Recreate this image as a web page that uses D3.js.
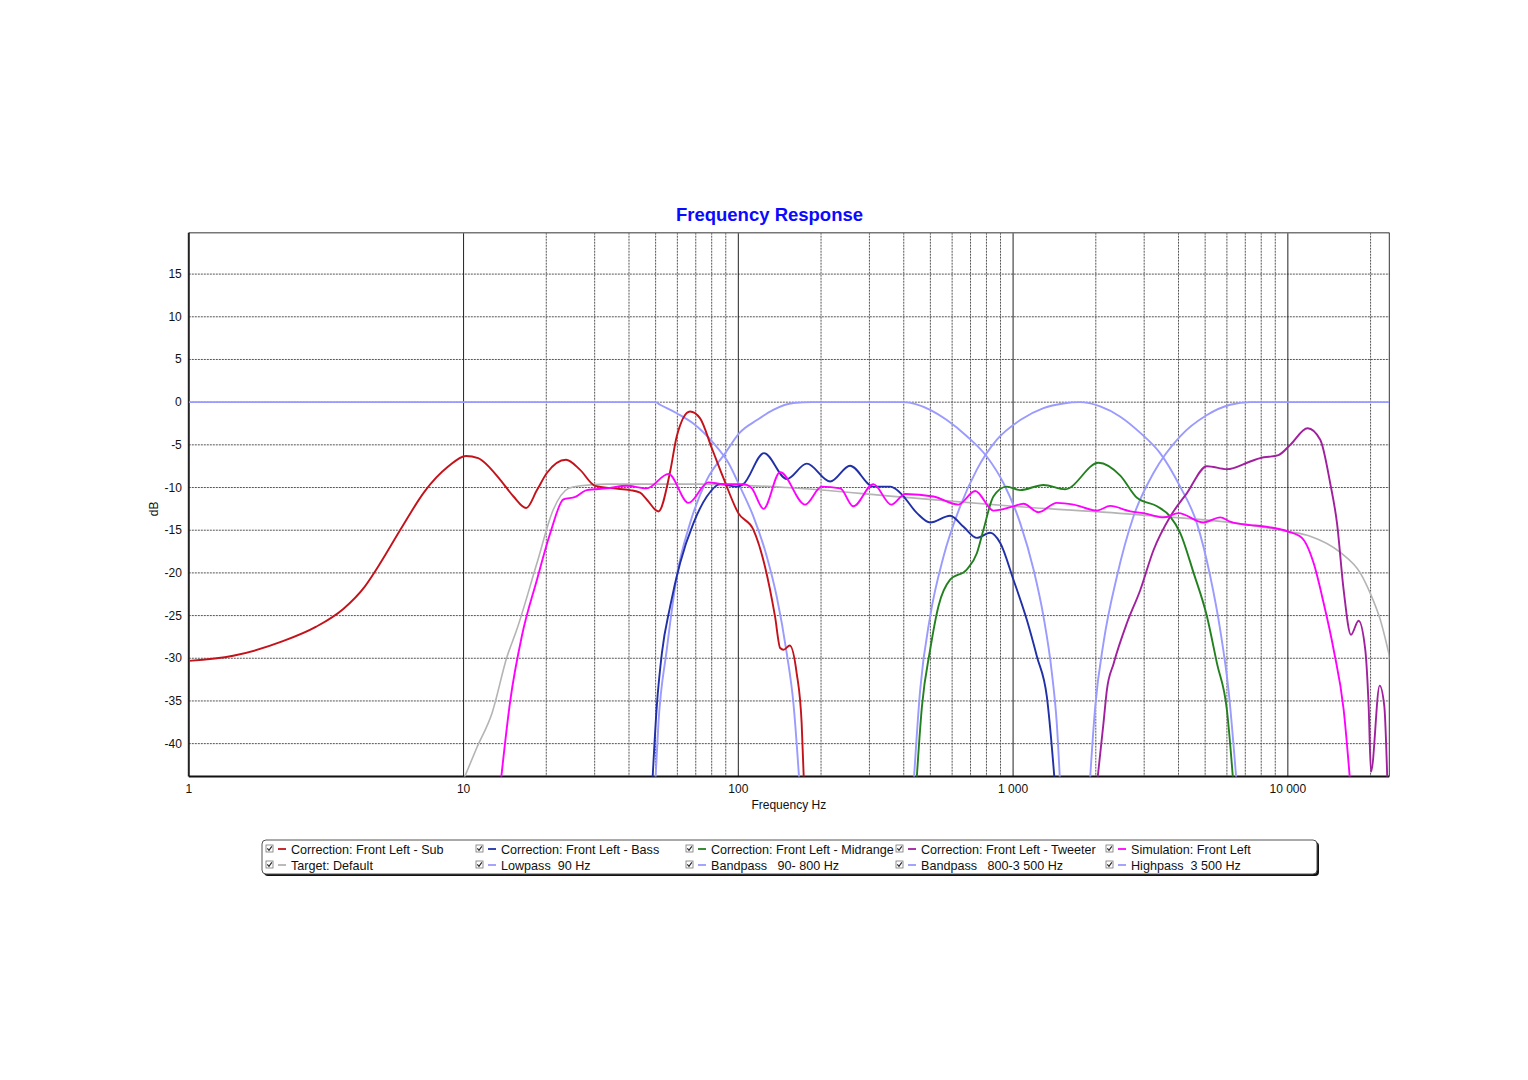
<!DOCTYPE html>
<html>
<head>
<meta charset="utf-8">
<script src="https://cdn.jsdelivr.net/npm/d3@7/dist/d3.min.js"></script>
<style>
  body { margin: 0; background: #fff; }
  text { font-family: "Liberation Sans", Arial, sans-serif; fill: #111; }
</style>
</head>
<body>
<div id="chart"></div>
<script>
// [frequency Hz, level dB]
const sub = [[1, -30.3], [1.45, -29.7], [2.2, -28.0], [2.91, -26.3], [3.64, -24.25], [4.37, -21.6],
  [4.89, -19.25], [5.94, -14.75], [7.22, -10.45], [8.79, -7.55], [10.2, -6.3], [11.3, -6.55],
  [11.8, -6.95], [13.6, -9.1], [15.2, -11.05], [16.9, -12.4], [18.5, -10.3], [20.1, -8.3],
  [23.6, -6.75], [26.5, -7.9], [30.1, -9.8], [35.1, -10.1], [40.4, -10.3], [43.9, -10.6],
  [46.4, -11.4], [51.2, -12.8], [56.5, -8.1], [59.7, -4.0], [66.7, -1.1], [72.6, -1.9],
  [80.1, -5.4], [88.3, -8.9], [100, -13.0], [113.5, -14.95], [125, -19.25], [136, -25.1],
  [142, -28.8], [146, -29.0], [154, -28.5], [163, -31.7], [170, -37.6], [174, -46]]

const bass = [[48.4, -46], [50.5, -35.6], [52.7, -29.4], [56.5, -23.9], [61.4, -18.85], [68.6, -14.2],
  [76.8, -11.05], [85.9, -9.6], [98.6, -9.9], [104.3, -9.6], [124, -5.97], [150, -9.0],
  [177.5, -7.2], [216, -9.3], [255, -7.45], [310, -9.9], [357, -9.9], [388, -10.6], [447, -13.0],
  [499, -14.1], [590, -13.3], [660, -14.6], [738, -15.9], [825, -15.3], [898, -16.5],
  [1003, -20.8], [1122, -25.5], [1221, -29.8], [1327, -34.5], [1430, -46]]

const midrange = [[442, -46], [466, -35.6], [499, -29.0], [535, -23.9], [590, -20.8], [679, -19.6],
  [738, -17.7], [780, -14.95], [848, -11.05], [948, -9.9], [1062, -10.3], [1290, -9.7],
  [1547, -10.2], [2046, -7.1], [2455, -8.6], [2825, -11.2], [3342, -12.2], [3733, -13.4],
  [4055, -15.3], [4539, -20.0], [5077, -25.1], [5521, -30.6], [5998, -36.0], [6380, -46]]

const tweeter = [[2000, -46], [2133, -37.6], [2195, -33.7], [2323, -30.6], [2594, -25.9], [2904, -22.0],
  [3243, -17.35], [3733, -13.4], [4293, -10.65], [5077, -7.5], [5998, -7.85], [7295, -6.95],
  [7934, -6.55], [9247, -6.2], [10200, -5.0], [11800, -3.05], [13120, -4.4], [14260, -9.5],
  [15100, -14.2], [15960, -22.0], [16970, -27.25], [18090, -25.6], [19130, -29.0], [19680, -35.6],
  [20070, -43.3], [21580, -33.2], [22440, -35.6], [23100, -46]]

const simulation = [[13.5, -46], [14.8, -34.9], [16.3, -27.4], [18.5, -20.8], [20.7, -15.3], [23.1, -11.4],
  [25.5, -11.1], [28.1, -10.3], [33.2, -10.1], [39.3, -9.8], [46.4, -10.1], [55.7, -8.4],
  [65.8, -11.8], [77.8, -9.4], [88.3, -9.6], [104.4, -9.6], [112, -10.1], [123.5, -12.5],
  [142, -8.2], [175, -12.0], [201, -9.9], [235, -10.1], [262, -12.2], [310, -9.6], [360, -12.0],
  [405, -10.75], [513, -11.05], [632, -12.0], [728, -10.4], [848, -12.7], [1003, -12.2],
  [1091, -11.9], [1237, -12.9], [1442, -11.8], [1660, -12.0], [2018, -12.7], [2257, -12.15],
  [2673, -12.8], [2985, -13.0], [3528, -13.5], [4000, -13.0], [4932, -14.1], [5675, -13.5],
  [6166, -14.0], [7295, -14.4], [7934, -14.5], [10000, -15.15], [11250, -15.9], [12410, -18.85],
  [13490, -23.5], [14680, -29.0], [15960, -36.0], [17000, -46]]

const target = [[10, -44.2], [11.2, -40.4], [12.7, -36.4], [14.4, -29.8], [15.6, -26.7], [18.5, -18.85],
  [21.2, -12.6], [24.1, -10.1], [26.6, -9.8], [33.2, -9.6], [72, -9.6], [150, -10.0], [388, -11.1],
  [1000, -12.2], [2904, -13.2], [7295, -14.4], [10000, -15.15], [12060, -15.7], [15520, -17.6],
  [18340, -20.0], [19950, -22.4], [21700, -25.5], [23600, -30.2]]

const lowpass90 = [[1, 0], [50, 0], [51.9, -0.3], [59.7, -1.3], [68.6, -2.5], [81.2, -4.8], [92, -7.1],
  [101.4, -9.9], [113.5, -13.4], [127, -18.1], [138, -22.8], [150, -29.4], [158.6, -35.2], [168, -46]]

const bandpass90to800 = [[49.6, -46], [51.2, -37.6], [54.9, -29.0], [59.7, -20.4], [66.7, -14.2],
  [76.8, -9.1], [89.5, -6.0], [101, -3.6], [116.8, -2.1], [134, -0.9], [158.6, -0.1], [185, 0],
  [400, 0], [499, -0.9], [574, -2.1], [679, -4.0], [803, -6.4], [923, -9.5], [1062, -14.2],
  [1187, -19.6], [1290, -25.1], [1384, -31.7], [1442, -37.6], [1490, -46]]

const bandpass800to3500 = [[432, -46], [459, -33.7], [499, -25.1], [558, -18.1], [642, -12.2],
  [738, -7.9], [873, -4.4], [1062, -2.1], [1290, -0.7], [1524, -0.15], [1750, 0], [2075, -0.5],
  [2455, -1.7], [2904, -3.6], [3433, -6.0], [4055, -9.9], [4667, -14.2], [5218, -20.4],
  [5675, -26.7], [6081, -33.7], [6560, -46]]

const highpass3500 = [[1890, -46], [1991, -35.6], [2133, -28.2], [2388, -20.4], [2742, -13.4],
  [3243, -8.3], [4055, -4.0], [5077, -1.5], [6166, -0.3], [7295, 0], [23400, 0]]

const xTicks = [1, 10, 100, 1000, 10000]
const xTickLabels = ['1', '10', '100', '1 000', '10 000']
const yTicks = [-40, -35, -30, -25, -20, -15, -10, -5, 0, 5, 10, 15]

const legendLabels = [
  'Correction: Front Left - Sub', 'Correction: Front Left - Bass', 'Correction: Front Left - Midrange',
  'Correction: Front Left - Tweeter', 'Simulation: Front Left', 'Target: Default', 'Lowpass  90 Hz',
  'Bandpass   90- 800 Hz', 'Bandpass   800-3 500 Hz', 'Highpass  3 500 Hz']

const COLORS = ['#c4121a', '#2030a6', '#23801f', '#a0209e', '#ff00ff', '#b4b4b4',
  '#9a9aff', '#9a9aff', '#9a9aff', '#9a9aff']
const seriesData = [sub, bass, midrange, tweeter, simulation, target,
  lowpass90, bandpass90to800, bandpass800to3500, highpass3500]

const MARGIN = {TOP: 232.7, LEFT: 188.8}
const WIDTH = 1389.3 - MARGIN.LEFT
const HEIGHT = 776.5 - MARGIN.TOP

const svg = d3.select('#chart')
  .append('svg')
  .attr('width', 1528)
  .attr('height', 1080)

const g = svg.append('g')
  .attr('transform', `translate(${MARGIN.LEFT}, ${MARGIN.TOP})`)

const x = d3.scaleLog()
  .domain([1, 23400])
  .range([0, WIDTH])

const y = d3.scaleLinear()
  .domain([-43.85, 19.85])
  .range([HEIGHT, 0])

g.append('clipPath').attr('id', 'plot-clip')
  .append('rect')
  .attr('width', WIDTH)
  .attr('height', HEIGHT)

// minor grid, only from 20 Hz up like the original
const minor = []
;[10, 100, 1000, 10000].forEach(d => {
  d3.range(2, 10).forEach(k => { if (d * k < 23400) minor.push(d * k) })
})

g.selectAll('.vminor').data(minor).enter()
  .append('line')
  .attr('x1', d => x(d)).attr('x2', d => x(d))
  .attr('y1', 0).attr('y2', HEIGHT)
  .attr('stroke', '#555')
  .attr('stroke-width', 1)
  .attr('stroke-dasharray', '2,1')

g.selectAll('.hgrid').data(yTicks).enter()
  .append('line')
  .attr('x1', 0).attr('x2', WIDTH)
  .attr('y1', d => y(d)).attr('y2', d => y(d))
  .attr('stroke', '#555')
  .attr('stroke-width', 1)
  .attr('stroke-dasharray', '2,1')

// solid decade lines
g.selectAll('.vmajor').data(xTicks.slice(1)).enter()
  .append('line')
  .attr('x1', d => x(d)).attr('x2', d => x(d))
  .attr('y1', 0).attr('y2', HEIGHT)
  .attr('stroke', '#222')
  .attr('stroke-width', 1)

// frame
g.append('line').attr('x1', 0).attr('x2', WIDTH).attr('y1', 0).attr('y2', 0)
  .attr('stroke', '#777').attr('stroke-width', 1.5)
g.append('line').attr('x1', WIDTH).attr('x2', WIDTH).attr('y1', 0).attr('y2', HEIGHT)
  .attr('stroke', '#333').attr('stroke-width', 1)
g.append('line').attr('x1', 0).attr('x2', 0).attr('y1', 0).attr('y2', HEIGHT)
  .attr('stroke', '#222').attr('stroke-width', 2)
g.append('line').attr('x1', 0).attr('x2', WIDTH).attr('y1', HEIGHT).attr('y2', HEIGHT)
  .attr('stroke', '#111').attr('stroke-width', 2)

// tick labels
g.selectAll('.ylab').data(yTicks).enter()
  .append('text')
  .attr('x', -7)
  .attr('y', d => y(d) + 4)
  .attr('text-anchor', 'end')
  .attr('font-size', 12)
  .text(d => d)

g.selectAll('.xlab').data(xTicks).enter()
  .append('text')
  .attr('x', d => x(d))
  .attr('y', HEIGHT + 17)
  .attr('text-anchor', 'middle')
  .attr('font-size', 12)
  .text((d, i) => xTickLabels[i])

g.append('text')
  .attr('x', -(y(-12.5)))
  .attr('y', -31)
  .attr('text-anchor', 'middle')
  .attr('transform', 'rotate(-90)')
  .attr('font-size', 12)
  .text('dB')

g.append('text')
  .attr('x', 600)
  .attr('y', HEIGHT + 33)
  .attr('text-anchor', 'middle')
  .attr('font-size', 12)
  .text('Frequency Hz')

svg.append('text')
  .attr('x', 769.5)
  .attr('y', 221)
  .attr('text-anchor', 'middle')
  .attr('font-size', 18.5)
  .attr('font-weight', 'bold')
  .style('fill', '#0a0aff')
  .text('Frequency Response')

// curves
const line = d3.line()
  .x(d => x(d[0]))
  .y(d => y(d[1]))
  .curve(d3.curveMonotoneX)

const drawOrder = [5, 6, 7, 8, 9, 0, 1, 2, 3, 4]
const curves = g.append('g').attr('clip-path', 'url(#plot-clip)')
drawOrder.forEach(i => {
  curves.append('path')
    .datum(seriesData[i])
    .attr('d', line)
    .attr('fill', 'none')
    .attr('stroke', COLORS[i])
    .attr('stroke-width', i === 5 ? 1.6 : 1.9)
})

// legend box with drop shadow
const LEG = {X: 262, Y: 840, W: 1055, H: 34}
svg.append('rect')
  .attr('x', LEG.X + 2).attr('y', LEG.Y + 2)
  .attr('width', LEG.W).attr('height', LEG.H)
  .attr('rx', 4)
  .attr('fill', '#111')
svg.append('rect')
  .attr('x', LEG.X).attr('y', LEG.Y)
  .attr('width', LEG.W).attr('height', LEG.H)
  .attr('rx', 4)
  .attr('fill', '#fff')
  .attr('stroke', '#555')
  .attr('stroke-width', 1)

const items = svg.selectAll('.legend').data(legendLabels).enter()
  .append('g')
  .attr('transform', (d, i) => `translate(${LEG.X + 4 + (i % 5) * 210}, ${849 + Math.floor(i / 5) * 16})`)

items.append('rect')
  .attr('x', 0).attr('y', -4)
  .attr('width', 7).attr('height', 7)
  .attr('fill', '#fff')
  .attr('stroke', '#777')
  .attr('stroke-width', 0.8)

items.append('path')
  .attr('d', 'M1.3,-0.6 L3,1.4 L5.8,-2.6')
  .attr('fill', 'none')
  .attr('stroke', '#222')
  .attr('stroke-width', 1.1)

items.append('line')
  .attr('x1', 12).attr('x2', 20)
  .attr('y1', 0).attr('y2', 0)
  .attr('stroke', (d, i) => COLORS[i])
  .attr('stroke-width', 1.8)

items.append('text')
  .attr('x', 25)
  .attr('y', 4.5)
  .attr('font-size', 12.6)
  .style('white-space', 'pre')
  .text(d => d)
</script>
</body>
</html>
